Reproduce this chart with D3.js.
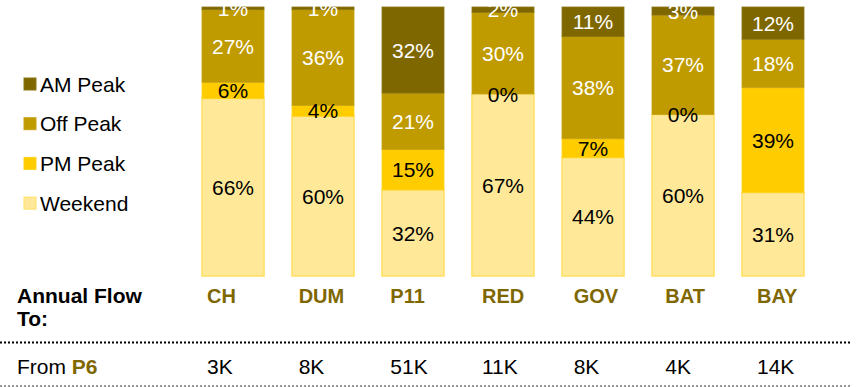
<!DOCTYPE html>
<html>
<head>
<meta charset="utf-8">
<script src="https://cdn.jsdelivr.net/npm/d3@7"></script>
<style>
  html, body { margin: 0; padding: 0; background: #fff; }
  svg { display: block; font-family: "Liberation Sans", Arial, sans-serif; }
</style>
</head>
<body>
<svg id="chart" width="856" height="387"></svg>
<script>
// ---- data ----
const categories = ["CH", "DUM", "P11", "RED", "GOV", "BAT", "BAY"];
const seriesNames = ["Weekend", "PM Peak", "Off Peak", "AM Peak"];
const weekend = [66, 60, 32, 67, 44, 60, 31];
const pmPeak  = [6, 4, 15, 0, 7, 0, 39];
const offPeak = [27, 36, 21, 30, 38, 37, 18];
const amPeak  = [1, 1, 32, 2, 11, 3, 12];
const annualFlow = ["3K", "8K", "51K", "11K", "8K", "4K", "14K"];
const legendOrder = ["AM Peak", "Off Peak", "PM Peak", "Weekend"];

// ---- styles ----
const fills   = { "AM Peak": "#7F6700", "Off Peak": "#BF9B00", "PM Peak": "#FFCC00", "Weekend": "#FFE999" };
const strokes = { "AM Peak": "#8C7614", "Off Peak": "#C7A416", "PM Peak": "#FFD21F", "Weekend": "#FFE066" };
const textCol = { "AM Peak": "#ffffff", "Off Peak": "#ffffff", "PM Peak": "#000000", "Weekend": "#000000" };
const olive = "#7F6700";
const FS = 21;

const rows = categories.map((c, i) => ({
  cat: c,
  "Weekend": weekend[i], "PM Peak": pmPeak[i], "Off Peak": offPeak[i], "AM Peak": amPeak[i]
}));

const svg = d3.select("#chart");

const x = d3.scaleBand().domain(categories).range([202, 804]).paddingInner(0.311).paddingOuter(0);
const y = d3.scaleLinear().domain([0, 1]).range([276, 7]);
const col = d3.scalePoint().domain(categories).range([207, 757]);

const stack = d3.stack().keys(seriesNames).offset(d3.stackOffsetExpand);
const stacked = stack(rows);

const g = svg.append("g");
const layers = g.selectAll("g.layer").data(stacked).join("g").attr("class", "layer");
layers.selectAll("rect").data(d => d.map(v => ({ key: d.key, v })))
  .join("rect")
  .attr("x", d => x(d.v.data.cat))
  .attr("width", x.bandwidth())
  .attr("y", d => y(d.v[1]))
  .attr("height", d => Math.max(0, y(d.v[0]) - y(d.v[1])))
  .attr("fill", d => fills[d.key])
  .attr("stroke", d => strokes[d.key])
  .attr("stroke-width", d => d.key === "Weekend" ? 1.6 : 0.8)
  .attr("stroke-opacity", d => (y(d.v[0]) - y(d.v[1])) > 0.5 ? 1 : 0);

// labels
const labelG = svg.append("g");
stacked.forEach(layer => {
  layer.forEach(v => {
    const val = v.data[layer.key];
    labelG.append("text")
      .attr("x", x(v.data.cat) + x.bandwidth() / 2)
      .attr("y", (y(v[0]) + y(v[1])) / 2)
      .attr("dy", "0.36em")
      .attr("text-anchor", "middle")
      .attr("font-size", FS)
      .attr("fill", textCol[layer.key])
      .text(val + "%");
  });
});

// legend
const leg = svg.append("g");
legendOrder.forEach((k, i) => {
  const cy = 84 + i * 39.7;
  leg.append("rect").attr("x", 24).attr("y", cy - 6).attr("width", 12).attr("height", 12)
    .attr("fill", fills[k]).attr("stroke", strokes[k]).attr("stroke-width", 1);
  leg.append("text").attr("x", 40).attr("y", cy).attr("dy", "0.36em")
    .attr("font-size", FS).attr("fill", "#000").text(k);
});

// table header
svg.append("text").attr("x", 17).attr("y", 303).attr("font-size", FS).attr("font-weight", "bold")
  .attr("fill", "#000").text("Annual Flow");
svg.append("text").attr("x", 17).attr("y", 326).attr("font-size", FS).attr("font-weight", "bold")
  .attr("fill", "#000").text("To:");
svg.selectAll("text.cat").data(categories).join("text").attr("class", "cat")
  .attr("x", d => col(d)).attr("y", 303)
  .attr("font-size", 20).attr("font-weight", "bold").attr("fill", olive).text(d => d);

// dotted lines
svg.append("line").attr("x1", 0).attr("x2", 852).attr("y1", 342.5).attr("y2", 342.5)
  .attr("stroke", "#000").attr("stroke-width", 2).attr("stroke-dasharray", "2,2");
svg.append("line").attr("x1", 0).attr("x2", 852).attr("y1", 386).attr("y2", 386)
  .attr("stroke", "#333").attr("stroke-width", 1).attr("stroke-dasharray", "2,2");

// from row
const from = svg.append("text").attr("x", 17).attr("y", 374).attr("font-size", FS).attr("fill", "#000");
from.append("tspan").text("From ");
from.append("tspan").attr("font-weight", "bold").attr("fill", olive).text("P6");
svg.selectAll("text.flow").data(categories).join("text").attr("class", "flow")
  .attr("x", d => col(d)).attr("y", 374)
  .attr("font-size", FS).attr("fill", "#000").text((d, i) => annualFlow[i]);
</script>
</body>
</html>
